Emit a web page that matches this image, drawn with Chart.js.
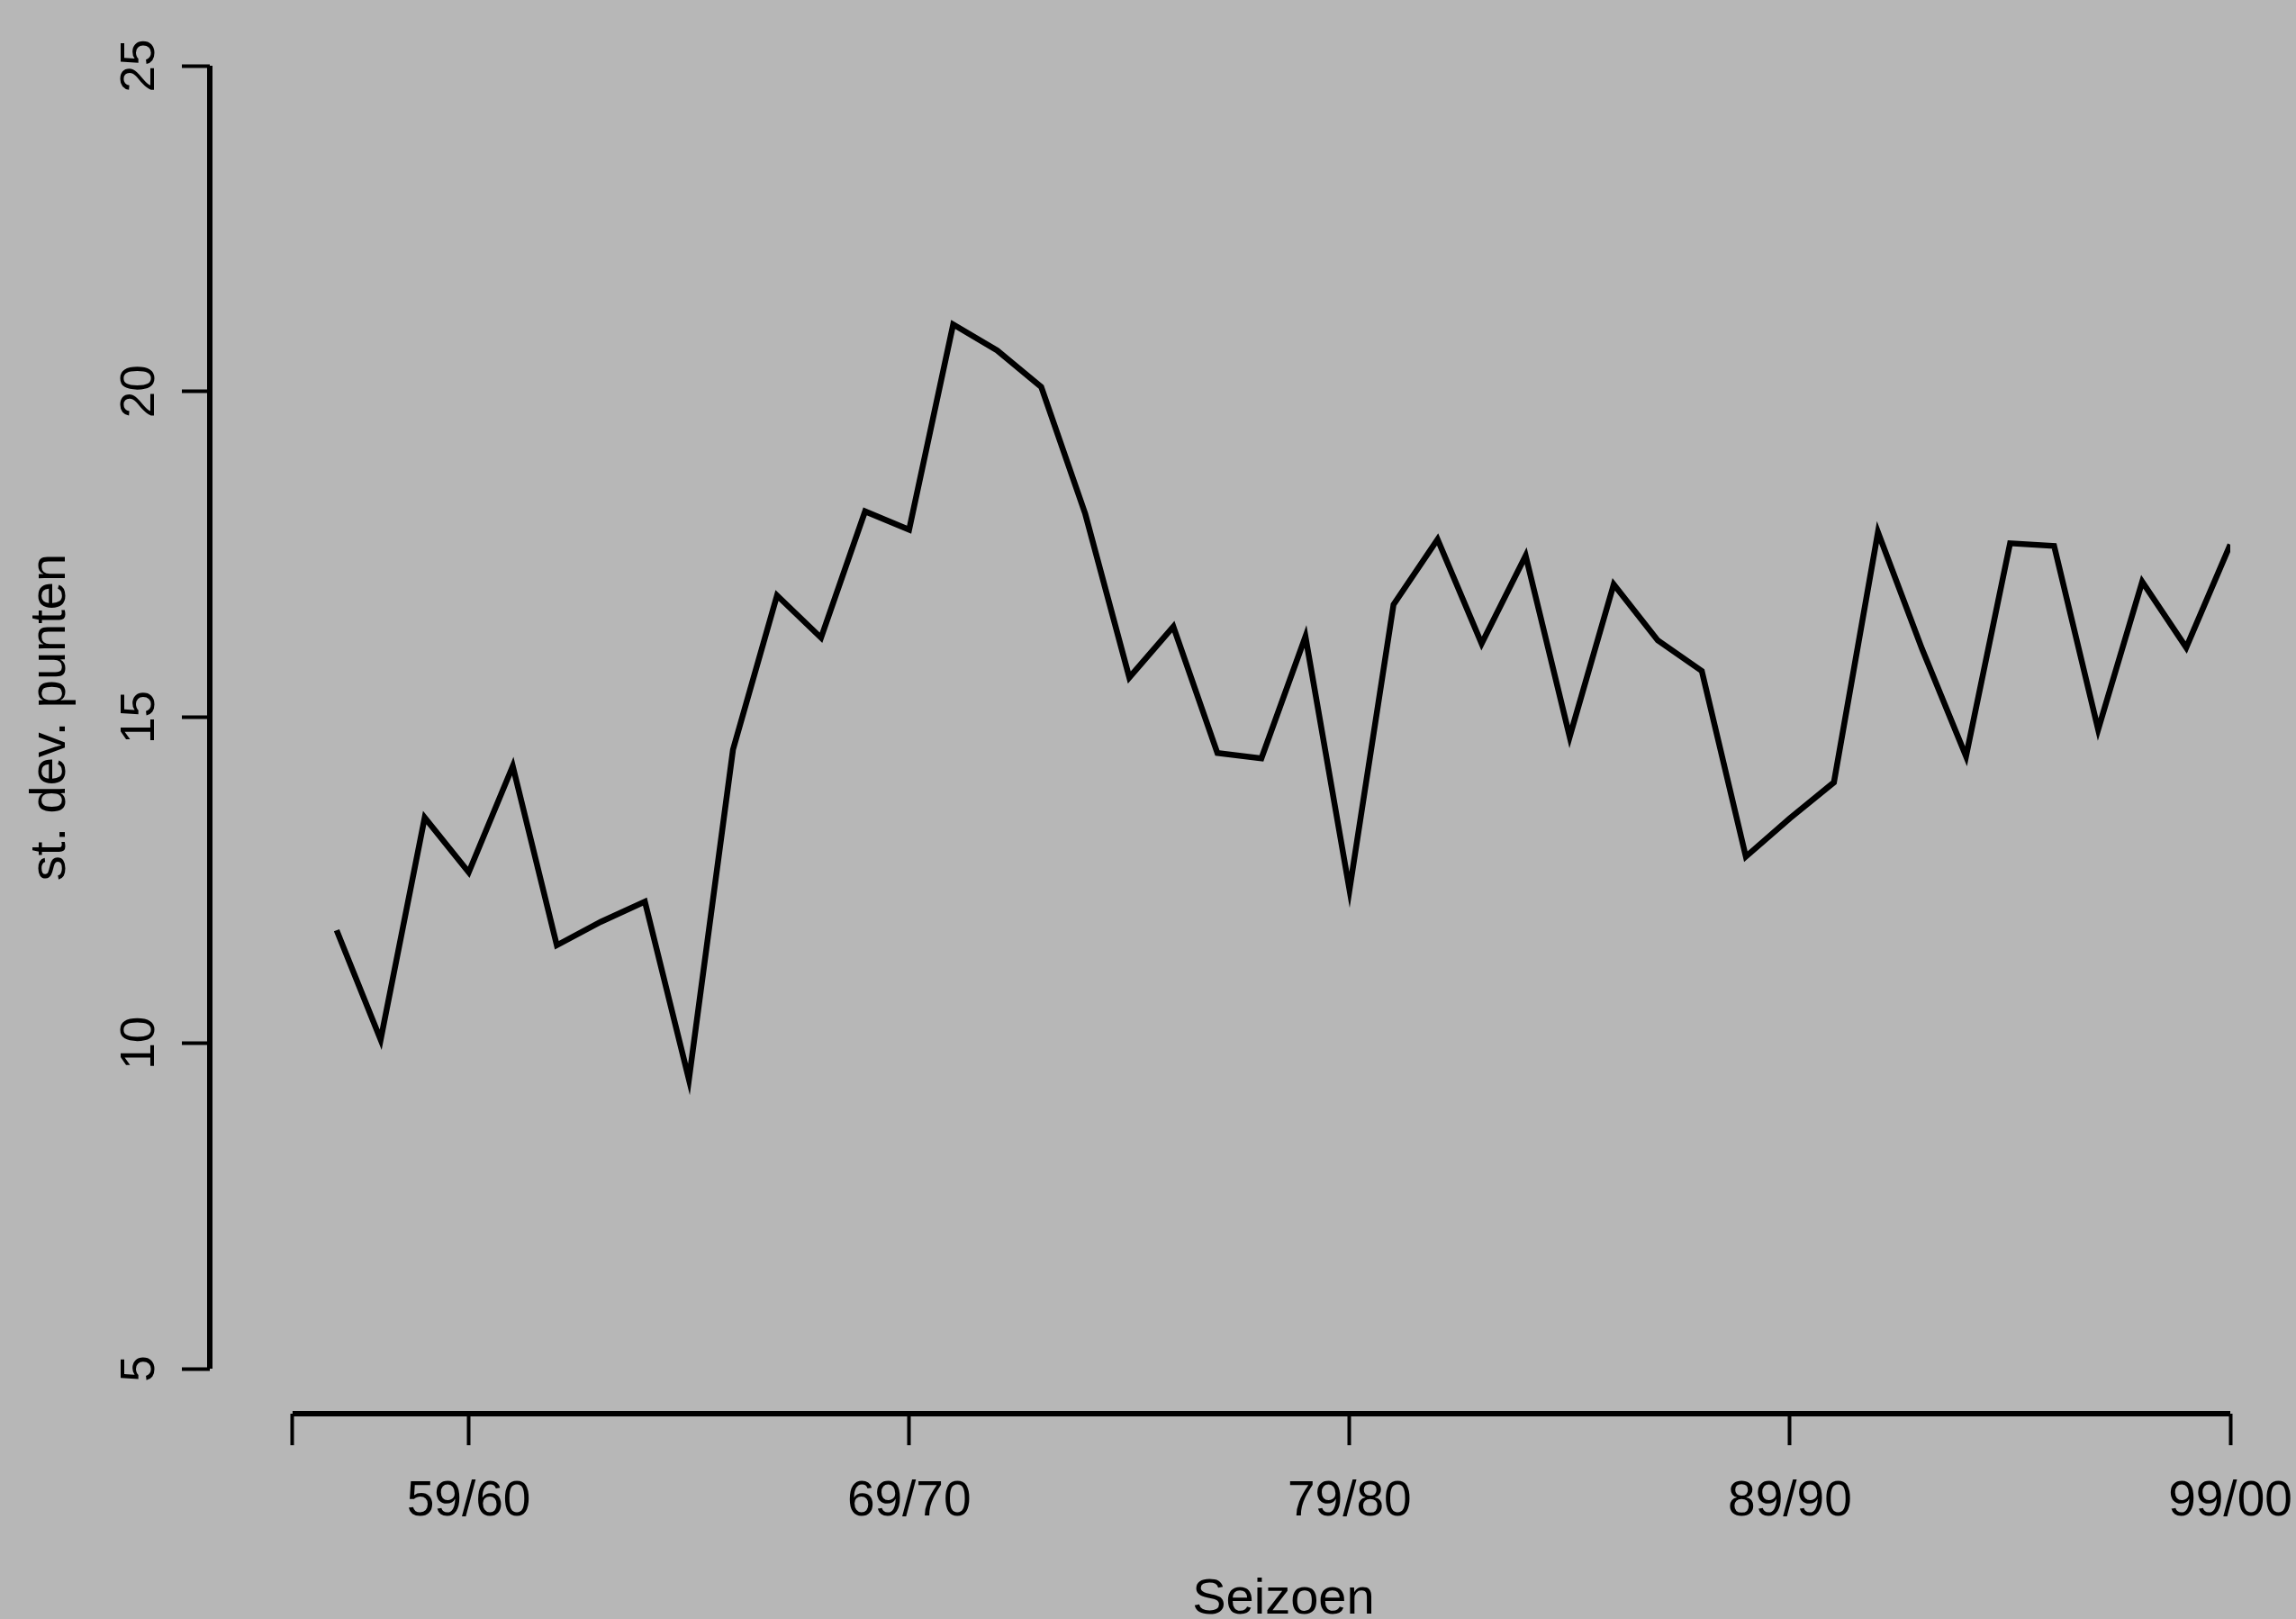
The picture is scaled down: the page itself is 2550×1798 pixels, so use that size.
<!DOCTYPE html>
<html>
<head>
<meta charset="utf-8">
<script src="https://cdn.jsdelivr.net/npm/chart.js@4/dist/chart.umd.min.js"></script>
<style>
    html, body { margin: 0; padding: 0; background: #b7b7b7; overflow: hidden; }
    canvas { display: block; background: #b7b7b7; }
</style>
</head>
<body>
<canvas id="sdChart" width="2550" height="1798"></canvas>
<script>
// seizoenen en standaarddeviatie van het aantal punten
const seasons = [
    '56/57', '57/58', '58/59', '59/60', '60/61', '61/62', '62/63', '63/64', '64/65', '65/66',
    '66/67', '67/68', '68/69', '69/70', '70/71', '71/72', '72/73', '73/74', '74/75', '75/76',
    '76/77', '77/78', '78/79', '79/80', '80/81', '81/82', '82/83', '83/84', '84/85', '85/86',
    '86/87', '87/88', '88/89', '89/90', '90/91', '91/92', '92/93', '93/94', '94/95', '95/96',
    '96/97', '97/98', '98/99', '99/00'
];
const stdDev = [
    11.73, 10.05, 13.46, 12.62, 14.25, 11.50, 11.86, 12.17, 9.44, 14.50,
    16.87, 16.22, 18.16, 17.88, 21.03, 20.63, 20.07, 18.12, 15.61, 16.39,
    14.45, 14.37, 16.24, 12.35, 16.73, 17.73, 16.13, 17.48, 14.70, 17.04,
    16.18, 15.71, 12.86, 13.45, 14.00, 17.84, 16.05, 14.40, 17.67, 17.63,
    14.81, 17.08, 16.07, 17.65
];

// as-indeling
const xTickYears = [1955, 1959, 1969, 1979, 1989, 1999];
const xTickLabels = ['', '59/60', '69/70', '79/80', '89/90', '99/00'];
const yTicks = [5, 10, 15, 20, 25];

const FONT = '"Liberation Sans", Arial, Helvetica, sans-serif';

// seizoen '56/57' -> 1956
const points = seasons.map((s, i) => ({ x: 1900 + parseInt(s, 10), y: stdDev[i] }));

// R-stijl assen: losse lijnen tussen eerste en laatste tick, plus astitels
const rAxes = {
    id: 'rAxes',
    afterDraw(chart) {
        const { ctx, scales: { x, y }, chartArea } = chart;
        ctx.save();
        ctx.strokeStyle = '#000';
        ctx.lineWidth = 6;
        ctx.lineCap = 'butt';
        ctx.beginPath();
        ctx.moveTo(chartArea.left, y.getPixelForValue(yTicks[0]));
        ctx.lineTo(chartArea.left, y.getPixelForValue(yTicks[yTicks.length - 1]));
        ctx.moveTo(x.getPixelForValue(xTickYears[0]), chartArea.bottom);
        ctx.lineTo(x.getPixelForValue(xTickYears[xTickYears.length - 1]), chartArea.bottom);
        ctx.stroke();

        ctx.fillStyle = '#000';
        ctx.font = '56px ' + FONT;
        ctx.textAlign = 'center';
        ctx.textBaseline = 'alphabetic';
        ctx.fillText('Seizoen', x.getPixelForValue(1977.5), chart.height - 6);

        ctx.translate(72, y.getPixelForValue(15));
        ctx.rotate(-Math.PI / 2);
        ctx.fillText('st. dev. punten', 0, 0);
        ctx.restore();
    }
};

const ctx = document.getElementById('sdChart').getContext('2d');
new Chart(ctx, {
    type: 'line',
    data: {
        datasets: [{
            label: 'st. dev. punten',
            data: points,
            borderColor: '#000',
            borderWidth: 6.5,
            pointRadius: 0,
            tension: 0,
            fill: false
        }]
    },
    options: {
        responsive: false,
        animation: false,
        devicePixelRatio: 1,
        layout: { padding: { top: 73, right: 73, left: 0, bottom: 0 } },
        plugins: {
            legend: { display: false },
            tooltip: { enabled: false }
        },
        scales: {
            x: {
                type: 'linear',
                min: 1953.12,
                max: 1999,
                afterFit: s => { s.height = 228; s.paddingLeft = 0; s.paddingRight = 0; },
                afterBuildTicks: s => { s.ticks = xTickYears.map(v => ({ value: v })); },
                grid: {
                    drawOnChartArea: false,
                    drawTicks: true,
                    tickLength: 35,
                    tickColor: '#000',
                    tickWidth: 4
                },
                border: { display: false },
                ticks: {
                    color: '#000',
                    padding: 30,
                    maxRotation: 0,
                    autoSkip: false,
                    font: { family: FONT, size: 55 },
                    callback: v => xTickLabels[xTickYears.indexOf(v)] ?? ''
                }
            },
            y: {
                min: 4.31,
                max: 25,
                afterFit: s => { s.width = 233; s.paddingTop = 0; s.paddingBottom = 0; },
                afterBuildTicks: s => { s.ticks = yTicks.map(v => ({ value: v })); },
                grid: {
                    drawOnChartArea: false,
                    drawTicks: true,
                    tickLength: 31,
                    tickColor: '#000',
                    tickWidth: 4
                },
                border: { display: false },
                ticks: {
                    color: '#000',
                    padding: 16,
                    minRotation: 90,
                    maxRotation: 90,
                    crossAlign: 'center',
                    font: { family: FONT, size: 53 }
                }
            }
        }
    },
    plugins: [rAxes]
});
</script>
</body>
</html>
